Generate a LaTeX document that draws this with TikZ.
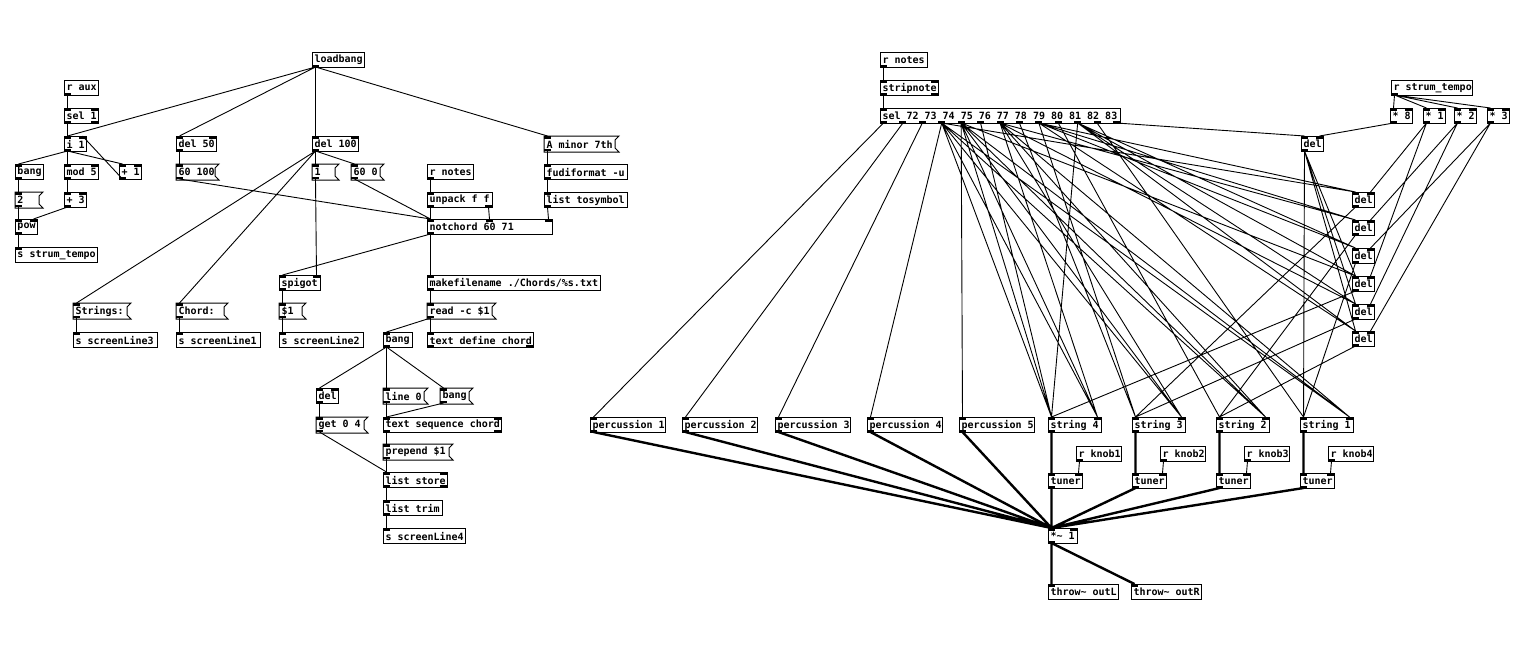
\documentclass[tikz,border=0pt]{standalone}
\usepackage{fontspec}
\usetikzlibrary{calc}
\newfontfamily\pdfont{DejaVu Sans Mono}
\tikzset{
  pdbox/.style={draw=black,line width=0.5pt,inner xsep=1pt,inner ysep=0pt,minimum height=7.5pt,anchor=north west,
    font=\pdfont\bfseries\fontsize{5}{6}\selectfont},
  pdmsg/.style={pdbox,draw=none},
  pdport/.style={fill=black},
  wire/.style={line width=0.45pt},
  sigwire/.style={line width=1.2pt},
}
% iolets: name, tag, x, y, width, count, 0=top/1=bottom
\newcommand{\pdports}[7]{%
  \ifnum#6>0
    \foreach \k in {1,...,#6}{%
      \ifnum#6>1 \pgfmathsetmacro\px{#3+(#5-7)*(\k-1)/(#6-1)}\else \pgfmathsetmacro\px{#3}\fi
      \ifnum#7=0
        \fill[pdport] (\px,#4) rectangle ++(7,2.5);
        \coordinate (#1-#2\k) at (\px+3.5,#4);
      \else
        \fill[pdport] (\px,#4+12.5) rectangle ++(7,2.5);
        \coordinate (#1-#2\k) at (\px+3.5,#4+15);
      \fi
    }%
  \fi}
% object box: name, x, y, width, text, inlets, outlets
\newcommand{\pdobj}[7]{%
  \pgfmathsetmacro\pdtw{#4*0.5-2}%
  \node[pdbox] (#1) at (#2,#3) {\makebox[\pdtw pt][l]{#5}};%
  \pdports{#1}{i}{#2}{#3}{#4}{#6}{0}%
  \pdports{#1}{o}{#2}{#3}{#4}{#7}{1}}
% message box with flag
\newcommand{\pdmsgbox}[7]{%
  \pgfmathsetmacro\pdtw{#4*0.5-2}%
  \node[pdmsg] (#1) at (#2,#3) {\makebox[\pdtw pt][l]{#5}};%
  \draw[line width=0.5pt] (#1.north west) -- (#1.north east) -- ++(-2pt,-2pt)
    -- ($(#1.south east)+(-2pt,2pt)$) -- (#1.south east) -- (#1.south west) -- cycle;%
  \pdports{#1}{i}{#2}{#3}{#4}{#6}{0}%
  \pdports{#1}{o}{#2}{#3}{#4}{#7}{1}}

\begin{document}
\begin{tikzpicture}[x=0.5pt,y=-0.5pt]
  \useasboundingbox (0,0) rectangle (1526,644);

  % chord display patch
  \pdobj{lb}{312}{52}{52}{loadbang}{0}{1}
  \pdobj{raux}{64}{80}{34}{r aux}{0}{1}
  \pdobj{selA}{64}{108}{34}{sel 1}{2}{2}
  \pdobj{iA}{64}{136}{22}{i 1}{2}{1}
  \pdobj{bngA}{15}{164}{28}{bang}{1}{1}
  \pdobj{modA}{64}{164}{34}{mod 5}{2}{1}
  \pdobj{plusA}{119}{164}{22}{+ 1}{2}{1}
  \pdmsgbox{twoA}{15}{192}{27}{2}{1}{1}
  \pdobj{plusB}{64}{192}{22}{+ 3}{2}{1}
  \pdobj{powA}{15}{219}{22}{pow}{2}{1}
  \pdobj{sstrum}{15}{247}{82}{s strum\_tempo}{1}{0}
  \pdobj{delA}{176}{136}{40}{del 50}{2}{1}
  \pdmsgbox{msgA}{176}{164}{42}{60 100}{1}{1}
  \pdobj{delB}{312}{136}{46}{del 100}{2}{1}
  \pdmsgbox{oneA}{312}{164}{26}{1}{1}{1}
  \pdmsgbox{msgB}{351}{164}{32}{60 0}{1}{1}
  \pdobj{rnotesA}{427}{164}{46}{r notes}{0}{1}
  \pdobj{unpk}{427}{192}{65}{unpack f f}{1}{2}
  \pdobj{notch}{427}{219}{125}{notchord 60 71}{3}{1}
  \pdmsgbox{amin}{544}{136}{74}{A minor 7th}{1}{1}
  \pdobj{fudi}{544}{164}{83}{fudiformat -u}{1}{1}
  \pdobj{ltos}{544}{192}{83}{list tosymbol}{1}{1}
  \pdmsgbox{strs}{73}{303}{57}{Strings:}{1}{1}
  \pdobj{ssl3}{73}{332}{84}{s screenLine3}{1}{0}
  \pdmsgbox{chrd}{176}{303}{51}{Chord:}{1}{1}
  \pdobj{ssl1}{176}{332}{84}{s screenLine1}{1}{0}
  \pdobj{spig}{279}{275}{41}{spigot}{2}{1}
  \pdmsgbox{dol}{279}{303}{26}{\$1}{1}{1}
  \pdobj{ssl2}{279}{332}{84}{s screenLine2}{1}{0}
  \pdobj{mkfn}{427}{275}{173}{makefilename ./Chords/\%s.txt}{1}{1}
  \pdmsgbox{readc}{427}{303}{68}{read -c \$1}{1}{1}
  \pdobj{tdef}{427}{332}{106}{text define chord}{1}{2}
  \pdobj{bngB}{383}{332}{29}{bang}{1}{1}
  \pdobj{delC}{316}{388}{22}{del}{2}{1}
  \pdmsgbox{lineA}{383}{388}{44}{line 0}{1}{1}
  \pdmsgbox{bngC}{440}{388}{32}{bang}{1}{1}
  \pdmsgbox{getA}{316}{417}{51}{get 0 4}{1}{1}
  \pdobj{tseq}{383}{417}{118}{text sequence chord}{2}{2}
  \pdmsgbox{prep}{383}{444}{69}{prepend \$1}{1}{1}
  \pdobj{lstore}{383}{472}{64}{list store}{2}{2}
  \pdobj{ltrim}{383}{500}{59}{list trim}{1}{1}
  \pdobj{ssl4}{383}{528}{82}{s screenLine4}{1}{0}

  \draw[wire] (lb-o1) -- (iA-i1) (lb-o1) -- (delA-i1) (lb-o1) -- (delB-i1) (lb-o1) -- (amin-i1)
    (raux-o1) -- (selA-i1) (selA-o1) -- (iA-i1)
    (iA-o1) -- (bngA-i1) (iA-o1) -- (modA-i1) (iA-o1) -- (plusA-i1) (plusA-o1) -- (iA-i2)
    (bngA-o1) -- (twoA-i1) (twoA-o1) -- (powA-i1) (modA-o1) -- (plusB-i1) (plusB-o1) -- (powA-i2)
    (powA-o1) -- (sstrum-i1)
    (delA-o1) -- (msgA-i1) (msgA-o1) -- (notch-i1)
    (delB-o1) -- (oneA-i1) (delB-o1) -- (msgB-i1) (delB-o1) -- (strs-i1) (delB-o1) -- (chrd-i1)
    (oneA-o1) -- (spig-i2) (msgB-o1) -- (notch-i1)
    (rnotesA-o1) -- (unpk-i1) (unpk-o1) -- (notch-i1) (unpk-o2) -- (notch-i2)
    (amin-o1) -- (fudi-i1) (fudi-o1) -- (ltos-i1) (ltos-o1) -- (notch-i3)
    (notch-o1) -- (spig-i1) (notch-o1) -- (mkfn-i1)
    (spig-o1) -- (dol-i1) (dol-o1) -- (ssl2-i1)
    (strs-o1) -- (ssl3-i1) (chrd-o1) -- (ssl1-i1)
    (mkfn-o1) -- (readc-i1) (readc-o1) -- (tdef-i1) (readc-o1) -- (bngB-i1)
    (bngB-o1) -- (delC-i1) (bngB-o1) -- (lineA-i1) (bngB-o1) -- (bngC-i1)
    (lineA-o1) -- (tseq-i1) (bngC-o1) -- (tseq-i1)
    (delC-o1) -- (getA-i1) (getA-o1) -- (lstore-i1)
    (tseq-o1) -- (prep-i1) (prep-o1) -- (lstore-i1) (lstore-o1) -- (ltrim-i1) (ltrim-o1) -- (ssl4-i1);

  % strum patch
  \pdobj{rnotesB}{880}{52}{47}{r notes}{0}{1}
  \pdobj{strip}{880}{80}{58}{stripnote}{2}{2}
  \pdobj{selB}{880}{108}{240}{sel 72 73 74 75 76 77 78 79 80 81 82 83}{1}{13}
  \pdobj{perc1}{590}{417}{75}{percussion 1}{1}{1}
  \pdobj{perc2}{682}{417}{75}{percussion 2}{1}{1}
  \pdobj{perc3}{775}{417}{75}{percussion 3}{1}{1}
  \pdobj{perc4}{867}{417}{75}{percussion 4}{1}{1}
  \pdobj{perc5}{959}{417}{75}{percussion 5}{1}{1}
  \pdobj{str4}{1048}{417}{53}{string 4}{2}{1}
  \pdobj{str3}{1132}{417}{53}{string 3}{2}{1}
  \pdobj{str2}{1216}{417}{53}{string 2}{2}{1}
  \pdobj{str1}{1300}{417}{53}{string 1}{2}{1}
  \pdobj{knob1}{1076}{446}{45}{r knob1}{0}{1}
  \pdobj{knob2}{1160}{446}{45}{r knob2}{0}{1}
  \pdobj{knob3}{1244}{446}{45}{r knob3}{0}{1}
  \pdobj{knob4}{1328}{446}{45}{r knob4}{0}{1}
  \pdobj{tun1}{1048}{473}{34}{tuner}{2}{1}
  \pdobj{tun2}{1132}{473}{34}{tuner}{2}{1}
  \pdobj{tun3}{1216}{473}{34}{tuner}{2}{1}
  \pdobj{tun4}{1300}{473}{34}{tuner}{2}{1}
  \pdobj{mul}{1048}{528}{29}{*\textasciitilde{} 1}{2}{1}
  \pdobj{thl}{1048}{584}{70}{throw\textasciitilde{} outL}{1}{0}
  \pdobj{thr}{1131}{584}{70}{throw\textasciitilde{} outR}{1}{0}
  \pdobj{rst}{1391}{80}{81}{r strum\_tempo}{0}{1}
  \pdobj{m8}{1390}{108}{22}{* 8}{2}{1}
  \pdobj{m1}{1423}{108}{22}{* 1}{2}{1}
  \pdobj{m2}{1454}{108}{22}{* 2}{2}{1}
  \pdobj{m3}{1487}{108}{22}{* 3}{2}{1}
  \pdobj{dt}{1301}{136}{22}{del}{2}{1}
  \pdobj{d1}{1352}{192}{22}{del}{2}{1}
  \pdobj{d2}{1352}{220}{22}{del}{2}{1}
  \pdobj{d3}{1352}{248}{22}{del}{2}{1}
  \pdobj{d4}{1352}{276}{22}{del}{2}{1}
  \pdobj{d5}{1352}{304}{22}{del}{2}{1}
  \pdobj{d6}{1352}{331}{22}{del}{2}{1}

  \draw[wire] (rnotesB-o1) -- (strip-i1) (strip-o1) -- (selB-i1)
    (selB-o1) -- (perc1-i1) (selB-o2) -- (perc2-i1) (selB-o3) -- (perc3-i1)
    (selB-o4) -- (perc4-i1) (selB-o5) -- (perc5-i1)
    (selB-o4) -- (str4-i1) (selB-o4) -- (str4-i2) (selB-o4) -- (str3-i2) (selB-o4) -- (str2-i2)
    (selB-o4) -- (str1-i2) (selB-o4) -- (d1-i1)
    (selB-o5) -- (str4-i1) (selB-o5) -- (str4-i2) (selB-o5) -- (str3-i2) (selB-o5) -- (str2-i2)
    (selB-o5) -- (str1-i2) (selB-o5) -- (d4-i1)
    (selB-o6) -- (str4-i1)
    (selB-o7) -- (str4-i2) (selB-o7) -- (str3-i2) (selB-o7) -- (str2-i2) (selB-o7) -- (str1-i2)
    (selB-o7) -- (d2-i1) (selB-o7) -- (d5-i1)
    (selB-o8) -- (str3-i1)
    (selB-o9) -- (str3-i1) (selB-o9) -- (d1-i1) (selB-o9) -- (d2-i1) (selB-o9) -- (d3-i1)
    (selB-o9) -- (d6-i1)
    (selB-o10) -- (str2-i1)
    (selB-o11) -- (str4-i1) (selB-o11) -- (d3-i1) (selB-o11) -- (d4-i1) (selB-o11) -- (d5-i1)
    (selB-o11) -- (d6-i1)
    (selB-o12) -- (str1-i1)
    (selB-o13) -- (dt-i1)
    (rst-o1) -- (m8-i1) (rst-o1) -- (m1-i1) (rst-o1) -- (m2-i1) (rst-o1) -- (m3-i1)
    (m8-o1) -- (dt-i2) (m1-o1) -- (d1-i2) (m1-o1) -- (d4-i2) (m2-o1) -- (d2-i2) (m2-o1) -- (d5-i2)
    (m3-o1) -- (d3-i2) (m3-o1) -- (d6-i2)
    (dt-o1) -- (str1-i1) (dt-o1) -- (d4-i1) (dt-o1) -- (d5-i1) (dt-o1) -- (d6-i1)
    (d1-o1) -- (str3-i1) (d2-o1) -- (str2-i1) (d3-o1) -- (str1-i1)
    (d4-o1) -- (str4-i1) (d5-o1) -- (str3-i1) (d6-o1) -- (str2-i1)
    (knob1-o1) -- (tun1-i2) (knob2-o1) -- (tun2-i2) (knob3-o1) -- (tun3-i2) (knob4-o1) -- (tun4-i2);

  \draw[sigwire] (perc1-o1) -- (mul-i1) (perc2-o1) -- (mul-i1) (perc3-o1) -- (mul-i1)
    (perc4-o1) -- (mul-i1) (perc5-o1) -- (mul-i1)
    (str4-o1) -- (tun1-i1) (str3-o1) -- (tun2-i1) (str2-o1) -- (tun3-i1) (str1-o1) -- (tun4-i1)
    (tun1-o1) -- (mul-i1) (tun2-o1) -- (mul-i1) (tun3-o1) -- (mul-i1) (tun4-o1) -- (mul-i1)
    (mul-o1) -- (thl-i1) (mul-o1) -- (thr-i1);
\end{tikzpicture}
\end{document}
